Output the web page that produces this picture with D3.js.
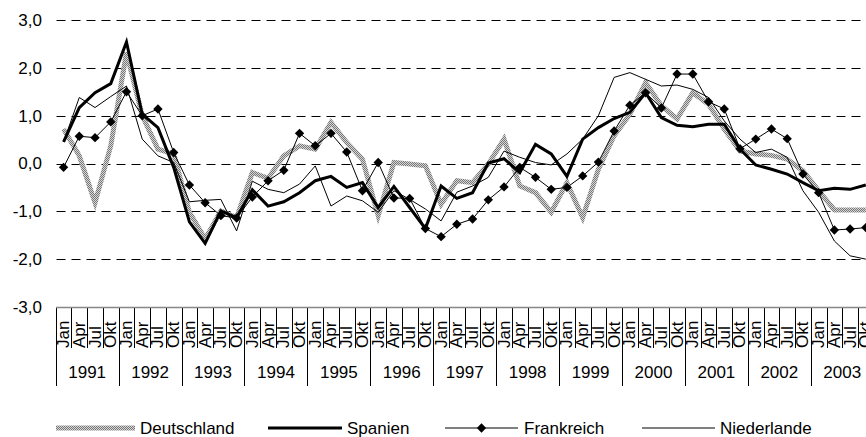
<!DOCTYPE html>
<html><head><meta charset="utf-8">
<script src="https://cdn.jsdelivr.net/npm/d3@7"></script>
<style>
body{margin:0;background:#fff;}
svg{display:block;font-family:"Liberation Sans",Arial,sans-serif;}
</style></head><body>
<svg id="c" width="866" height="437"></svg>
<script>
const years = ["1991","1992","1993","1994","1995","1996","1997","1998","1999","2000","2001","2002","2003"];
const quarters = ["Jan","Apr","Jul","Okt"];
const categories = years.flatMap(yr => quarters.map(q => q + " " + yr));
const yTicks = [3, 2, 1, 0, -1, -2, -3];
const seriesNames = ["Deutschland", "Spanien", "Frankreich", "Niederlande"];

const deutschland = [0.72,0.16,-0.82,0.37,2.32,1.00,0.30,0.20,-1.02,-1.58,-0.99,-1.13,-0.19,
  -0.31,0.16,0.37,0.30,0.86,0.44,0.09,-1.09,0.02,-0.01,-0.05,-0.85,-0.36,
  -0.40,-0.01,0.51,-0.47,-0.61,-1.02,-0.40,-1.13,-0.12,0.58,1.03,1.69,
  1.21,0.93,1.48,1.24,0.72,0.26,0.20,0.17,0.09,-0.15,-0.57,-0.97,-0.97,-0.97];
const spanien = [0.45,1.17,1.48,1.67,2.54,1.03,0.75,-0.08,-1.22,-1.67,-0.99,-1.13,-0.55,
  -0.89,-0.80,-0.61,-0.36,-0.27,-0.50,-0.40,-0.92,-0.48,-0.92,-1.36,-0.47,-0.73,
  -0.61,0.01,0.10,-0.19,0.40,0.20,-0.27,0.51,0.75,0.94,1.07,1.48,
  0.96,0.80,0.77,0.82,0.82,0.30,-0.03,-0.12,-0.22,-0.40,-0.57,-0.52,-0.54,-0.45];
const frankreich = [-0.08,0.57,0.54,0.87,1.50,1.00,1.14,0.23,-0.45,-0.82,-1.09,-1.14,-0.70,
  -0.36,-0.14,0.63,0.37,0.63,0.24,-0.57,0.02,-0.72,-0.73,-1.36,-1.53,-1.27,
  -1.16,-0.76,-0.49,-0.08,-0.29,-0.54,-0.50,-0.26,0.03,0.68,1.22,1.48,
  1.16,1.87,1.87,1.29,1.14,0.31,0.51,0.72,0.52,-0.22,-0.61,-1.39,-1.37,-1.34];
const niederlande = [0.45,1.38,1.17,1.40,1.62,0.51,0.16,0.02,-0.80,-0.77,-0.75,-1.41,-0.37,
  -0.54,-0.61,-0.43,-0.05,-0.89,-0.68,-0.78,-1.02,-0.57,-0.75,-0.95,-1.20,-0.60,
  -0.47,-0.29,0.26,0.13,0.02,-0.03,0.20,0.51,1.00,1.80,1.90,1.76,
  1.62,1.64,1.55,1.38,0.89,0.51,0.23,0.30,0.13,-0.57,-1.02,-1.62,-1.93,-2.00];

const svg = d3.select("#c");
const defs = svg.append("defs");
const pat = defs.append("pattern").attr("id","hatch").attr("width",2).attr("height",2)
  .attr("patternUnits","userSpaceOnUse");
pat.append("rect").attr("width",2).attr("height",2).attr("fill","#d6d6d6");
pat.append("rect").attr("width",1).attr("height",1).attr("fill","#777");
pat.append("rect").attr("x",1).attr("y",1).attr("width",1).attr("height",1).attr("fill","#777");

const x0 = 55.7, x1 = 873.7;
const x = d3.scaleBand().domain(categories).range([x0, x1]);
const xYear = d3.scaleBand().domain(years).range([x0, x1]);
const y = d3.scaleLinear().domain([-3, 3]).range([307, 20]);
const bw = x.bandwidth();
const loc = d3.formatLocale({decimal:",", thousands:".", grouping:[3], currency:["","€"], minus:"-"});
const fmt = loc.format(".1f");

// gridlines
svg.append("g").selectAll("line").data(yTicks.filter(t => t > -3)).join("line")
  .attr("x1", 56.5).attr("x2", 866)
  .attr("y1", d => Math.round(y(d)) + 0.5).attr("y2", d => Math.round(y(d)) + 0.5)
  .attr("stroke", "#000").attr("stroke-width", 1).attr("stroke-dasharray", "9,6");

// y labels
svg.append("g").attr("transform", "translate(42,0)")
  .call(d3.axisLeft(y).tickValues(yTicks).tickFormat(fmt).tickSize(0).tickPadding(0))
  .call(g => g.select(".domain").remove())
  .attr("font-family", null).attr("font-size", 17)
  .selectAll("text").attr("fill", "#000");

// category separators
const bounds = d3.range(categories.length + 1);
svg.append("g").selectAll("line").data(bounds).join("line")
  .attr("x1", i => Math.round(x0 + i * bw) + 0.5).attr("x2", i => Math.round(x0 + i * bw) + 0.5)
  .attr("y1", 307).attr("y2", i => i % 4 === 0 ? 386 : 348)
  .attr("stroke", "#000").attr("stroke-width", 1);

// x axis line
svg.append("line").attr("x1", 56).attr("x2", 866).attr("y1", 307.5).attr("y2", 307.5)
  .attr("stroke", "#888").attr("stroke-width", 1.5);

// quarter labels
svg.append("g").attr("transform", "translate(0,307)")
  .call(d3.axisBottom(x).tickFormat(d => d.split(" ")[0]).tickSize(0))
  .call(g => g.select(".domain").remove())
  .attr("font-family", null).attr("font-size", 17)
  .selectAll("text").attr("fill", "#000").attr("y", 0).attr("dy", 0)
  .attr("text-anchor", "start").attr("transform", "translate(5.5,41) rotate(-90)");

// year labels
svg.append("g").attr("transform", "translate(0,307)")
  .call(d3.axisBottom(xYear).tickSize(0))
  .call(g => g.select(".domain").remove())
  .attr("font-family", null).attr("font-size", 17)
  .selectAll("text").attr("fill", "#000").attr("y", 71).attr("dy", 0);

// lines
const line = d3.line().x((d, i) => x(categories[i]) + bw / 2).y(d => y(d));
const styles = {
  Deutschland: {stroke: "url(#hatch)", width: 5},
  Spanien: {stroke: "#000", width: 3},
  Frankreich: {stroke: "#000", width: 1},
  Niederlande: {stroke: "#000", width: 1}
};
const dataByName = {Deutschland: deutschland, Spanien: spanien, Frankreich: frankreich, Niederlande: niederlande};
const plot = svg.append("g");
seriesNames.forEach(n => {
  plot.append("path").datum(dataByName[n]).attr("d", line)
    .attr("fill", "none").attr("stroke", styles[n].stroke).attr("stroke-width", styles[n].width)
    .attr("stroke-linejoin", "miter");
});
const diamond = d3.symbol().type(d3.symbolDiamond2).size(56);
plot.append("g").selectAll("path").data(frankreich).join("path")
  .attr("transform", (d, i) => `translate(${x(categories[i]) + bw / 2},${y(d)})`)
  .attr("d", diamond).attr("fill", "#000");

// legend
const legend = [
  {name: "Deutschland", lx1: 56, lx2: 135, tx: 140},
  {name: "Spanien", lx1: 268, lx2: 342, tx: 347},
  {name: "Frankreich", lx1: 445, lx2: 518, tx: 524},
  {name: "Niederlande", lx1: 642, lx2: 715, tx: 720}
];
const lg = svg.append("g").selectAll("g").data(legend).join("g");
lg.append("line").attr("x1", d => d.lx1).attr("x2", d => d.lx2).attr("y1", 428).attr("y2", 428)
  .attr("stroke", d => styles[d.name].stroke).attr("stroke-width", d => styles[d.name].width);
lg.filter(d => d.name === "Frankreich").append("path")
  .attr("transform", d => `translate(${(d.lx1 + d.lx2) / 2},428)`).attr("d", diamond).attr("fill", "#000");
lg.append("text").attr("x", d => d.tx).attr("y", 434).attr("font-size", 17).attr("fill", "#000")
  .text(d => d.name);
</script>
</body></html>
